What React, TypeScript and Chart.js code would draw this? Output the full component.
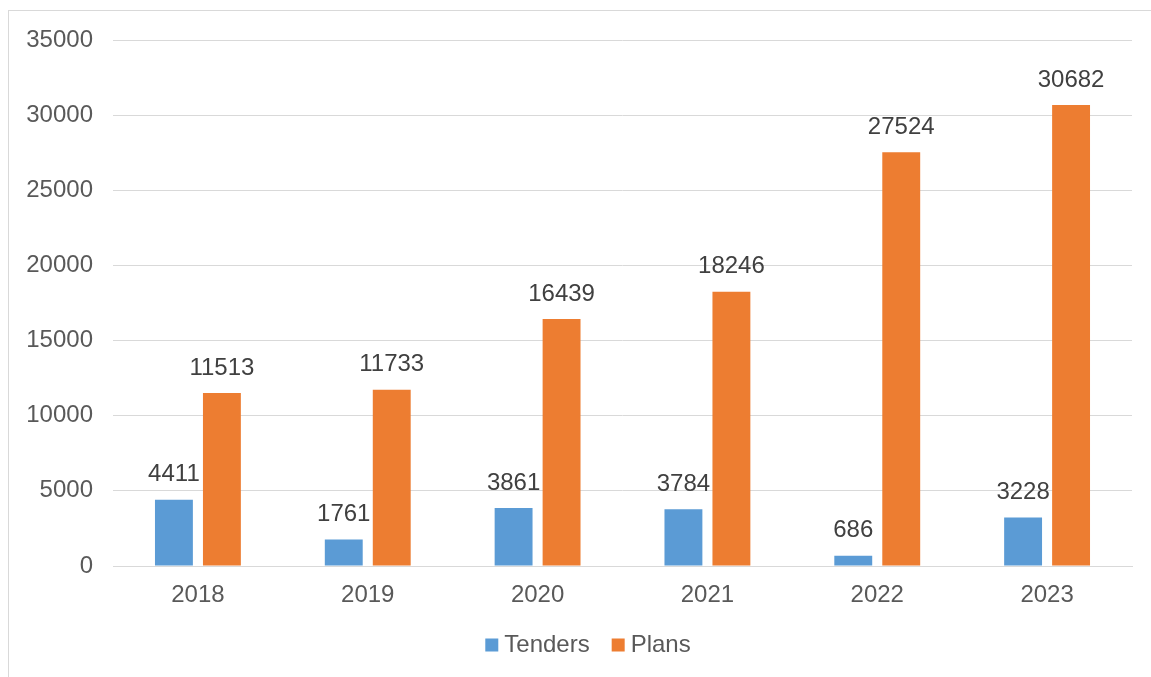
import React, { useEffect, useRef } from "react";
import { Chart, registerables } from "chart.js";

Chart.register(...registerables);

const categories = ["2018", "2019", "2020", "2021", "2022", "2023"];
const tenders = [4411, 1761, 3861, 3784, 686, 3228];
const plans = [11513, 11733, 16439, 18246, 27524, 30682];
const seriesNames = ["Tenders", "Plans"];
const seriesColors = ["#5B9BD5", "#ED7D31"];

const FONT = "'Liberation Sans', Arial, sans-serif";
const FS = 24;

const valueLabels = {
  id: "valueLabels",
  afterDatasetsDraw(chart: any) {
    const ctx = chart.ctx;
    ctx.save();
    ctx.font = `${FS}px ${FONT}`;
    ctx.fillStyle = "#404040";
    ctx.textAlign = "center";
    ctx.textBaseline = "middle";
    chart.data.datasets.forEach((ds: any, i: number) => {
      const meta = chart.getDatasetMeta(i);
      meta.data.forEach((bar: any, j: number) => {
        ctx.fillText(String(ds.data[j]), bar.x, bar.y - 25);
      });
    });
    ctx.restore();
  },
};

const customLegend = {
  id: "customLegend",
  afterDraw(chart: any) {
    const ctx = chart.ctx;
    ctx.save();
    ctx.font = `${FS}px ${FONT}`;
    ctx.textBaseline = "middle";
    ctx.textAlign = "left";
    const box = 13;
    const gap = 6;
    const itemGap = 22;
    const items = chart.data.datasets.map((ds: any) => ({
      label: ds.label,
      color: ds.backgroundColor,
      w: ctx.measureText(ds.label).width,
    }));
    const total = items.reduce((a: number, it: any) => a + box + gap + it.w, 0) + itemGap * (items.length - 1);
    let x = 588 - total / 2;
    const y = 645;
    items.forEach((it: any) => {
      ctx.fillStyle = it.color;
      ctx.fillRect(x, y - box / 2, box, box);
      ctx.fillStyle = "#595959";
      ctx.fillText(it.label, x + box + gap, y);
      x += box + gap + it.w + itemGap;
    });
    ctx.restore();
  },
};

export default function App() {
  const ref = useRef<HTMLCanvasElement>(null);
  useEffect(() => {
    if (!ref.current) return;
    const chart = new Chart(ref.current, {
      type: "bar",
      data: {
        labels: categories,
        datasets: [
          {
            label: seriesNames[0],
            data: tenders,
            backgroundColor: seriesColors[0],
            categoryPercentage: 0.565,
            barPercentage: 0.79,
          },
          {
            label: seriesNames[1],
            data: plans,
            backgroundColor: seriesColors[1],
            categoryPercentage: 0.565,
            barPercentage: 0.79,
          },
        ],
      },
      options: {
        animation: false,
        responsive: true,
        maintainAspectRatio: false,
        layout: { padding: { top: 40, right: 19, left: 0, bottom: 56 } },
        scales: {
          x: {
            grid: { display: false, drawTicks: false },
            border: { display: true, color: "#d9d9d9", width: 1 },
            ticks: { color: "#595959", font: { size: FS, family: FONT }, padding: 15 },
            afterFit: (s: any) => {
              s.height = 55;
            },
          },
          y: {
            min: 0,
            max: 35000,
            ticks: {
              stepSize: 5000,
              color: "#595959",
              font: { size: FS, family: FONT },
              padding: 20,
              callback: (v: any) => String(v),
            },
            grid: { color: "#d9d9d9", lineWidth: 1, drawTicks: false },
            border: { display: false },
            afterFit: (s: any) => {
              s.width = 113;
            },
          },
        },
        plugins: {
          legend: { display: false },
          tooltip: { enabled: false },
        },
      },
      plugins: [valueLabels, customLegend],
    });
    return () => chart.destroy();
  }, []);

  return (
    <div style={{ position: "fixed", left: 0, top: 0, width: 1151, height: 677, overflow: "hidden", background: "#fff" }}>
      <div
        style={{
          position: "absolute",
          left: 8,
          top: 10,
          width: 1200,
          height: 800,
          border: "1px solid #d9d9d9",
          boxSizing: "border-box",
        }}
      />
      <div style={{ position: "absolute", left: 0, top: 0, width: 1151, height: 677 }}>
        <canvas ref={ref} />
      </div>
    </div>
  );
}
